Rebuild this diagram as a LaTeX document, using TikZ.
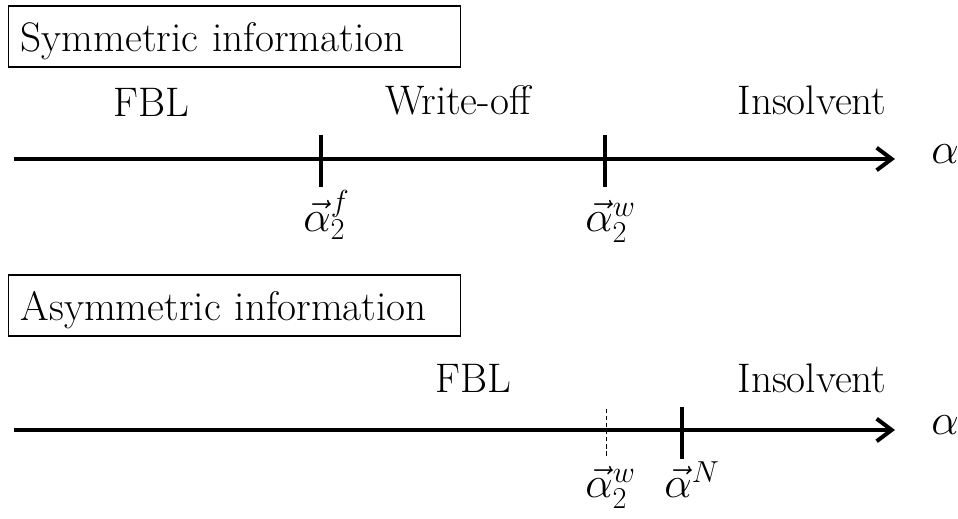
\documentclass[tikz,border=0pt]{standalone}
\usepackage{tikz}
\usetikzlibrary{arrows.meta}
\newcommand{\lblsize}{\fontsize{23.5pt}{28pt}\selectfont}

\begin{document}
\begin{tikzpicture}[x=0.02cm,y=-0.02cm,
  every node/.style={font=\lblsize,inner sep=0pt},
  infobox/.style={draw,line width=0.75pt,anchor=base west,text width=8.56cm,align=left,
    inner xsep=0.24cm,inner ysep=0.05cm,text height=0.87cm,text depth=0.25cm},
  axis/.style={line width=0.08cm,-{Straight Barb[length=0.3cm,width=0.45cm]}},
  tick/.style={line width=0.07cm},
  weaktick/.style={line width=0.5pt,dash pattern=on 2.5pt off 1.5pt}]

\useasboundingbox (0,0) rectangle (958,519);

% Symmetric information
\node[infobox] (sym) at (8,52) {Symmetric information};

\node[anchor=base] (fblA) at (151,117) {FBL};
\node[anchor=base] (writeoff) at (458,115) {Write-off};
\node[anchor=base] (insolA) at (812,115) {Insolvent};

\coordinate (axAstart) at (14,159);
\coordinate (axAend) at (895,159);
\draw[axis] (axAstart) -- (axAend);
\node[anchor=mid west] (alphaA) at (931,160) {$\alpha$};

\coordinate (tfTop) at (321,135);
\coordinate (tfBot) at (321,187);
\draw[tick] (tfTop) -- (tfBot);
\coordinate (twTop) at (605,135);
\coordinate (twBot) at (605,187);
\draw[tick] (twTop) -- (twBot);

\node[anchor=base west] (alphaf) at (303,232) {$\vec{\alpha}_2^f$};
\node[anchor=base west] (alphawA) at (585,232) {$\vec{\alpha}_2^w$};

% Asymmetric information
\node[infobox] (asym) at (8,321) {Asymmetric information};

\node[anchor=base] (fblB) at (473,393) {FBL};
\node[anchor=base] (insolB) at (812,393) {Insolvent};

\coordinate (axBstart) at (14,430);
\coordinate (axBend) at (895,430);
\draw[axis] (axBstart) -- (axBend);
\node[anchor=mid west] (alphaB) at (931,431) {$\alpha$};

\coordinate (twbTop) at (606,409);
\coordinate (twbBot) at (606,458);
\draw[weaktick] (twbTop) -- (twbBot);
\coordinate (tnTop) at (682,407);
\coordinate (tnBot) at (682,459);
\draw[tick] (tnTop) -- (tnBot);

\node[anchor=base west] (alphawB) at (585,498) {$\vec{\alpha}_2^w$};
\node[anchor=base west] (alphaN) at (664,498) {$\vec{\alpha}^N$};

\end{tikzpicture}
\end{document}
